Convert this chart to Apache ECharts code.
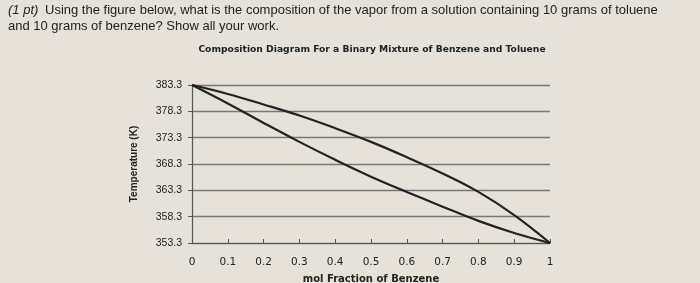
<!DOCTYPE html>
<html><head><meta charset="utf-8">
<script src="https://cdn.jsdelivr.net/npm/echarts@6/dist/echarts.min.js"></script>
<style>html,body{margin:0;padding:0;background:#e6e2da;}#c{width:700px;height:283px;}</style>
</head><body><div id="c"></div>
<script>
var questionLine1 = "Using the figure below, what is the composition of the vapor from a solution containing 10 grams of toluene";
var questionLine2 = "and 10 grams of benzene? Show all your work.";
var chartTitle = "Composition Diagram For a Binary Mixture of Benzene and Toluene";
var xName = "mol Fraction of Benzene";
var yName = "Temperature (K)";
var yTicks = [353.3, 358.3, 363.3, 368.3, 373.3, 378.3, 383.3];
var molFraction = [0, 0.1, 0.2, 0.3, 0.4, 0.5, 0.6, 0.7, 0.8, 0.9, 1];
var liquidT = [383.3, 379.8, 376.1, 372.5, 369.1, 365.9, 363.0, 360.2, 357.5, 355.2, 353.3];
var vaporT  = [383.3, 381.6, 379.6, 377.5, 375.1, 372.5, 369.6, 366.5, 363.0, 358.6, 353.3];

var yBase = yTicks[0];
function pairs(t){ return molFraction.map(function(x,i){ return [x, +(t[i]-yBase).toFixed(3)]; }); }

var chart = echarts.init(document.getElementById('c'), null, {renderer:'canvas'});
chart.setOption({
  backgroundColor: '#e6e2da',
  animation: false,
  graphic: [
    {type:'text', left: 8, top: 4, style:{text:'(1 pt)', font:'italic 13px "Liberation Sans"', fill:'#222'}},
    {type:'text', left: 45, top: 4, style:{text: questionLine1, font:'13px "Liberation Sans"', fill:'#222'}},
    {type:'text', left: 8, top: 20, style:{text: questionLine2, font:'13px "Liberation Sans"', fill:'#222'}}
  ],
  title: {
    text: chartTitle, left: 367, top: 40, textAlign: 'center',
    textStyle: {fontFamily: 'DejaVu Sans', fontWeight: 'bold', fontSize: 9.2, color: '#222'}
  },
  grid: {left: 192, right: 150, top: 85, bottom: 40, outerBoundsMode: 'none', containLabel: false},
  xAxis: {
    type: 'value', min: 0, max: 1, interval: 0.1,
    name: xName, nameLocation: 'middle', nameGap: 31,
    nameTextStyle: {fontFamily: 'DejaVu Sans', fontWeight: 'bold', fontSize: 10, color: '#222'},
    axisLine: {lineStyle: {color: '#555', width: 1.2}},
    axisTick: {inside: true, length: 4, lineStyle: {color: '#555'}},
    axisLabel: {fontFamily: 'DejaVu Sans', fontSize: 10.5, color: '#222', margin: 14},
    splitLine: {show: false}
  },
  yAxis: {
    type: 'value', min: 0, max: yTicks[yTicks.length-1]-yBase, interval: 5,
    name: yName, nameLocation: 'middle', nameGap: 53, nameRotate: 90,
    nameTextStyle: {fontFamily: 'Liberation Sans', fontWeight: 'bold', fontSize: 10, color: '#222'},
    axisLine: {show: true, lineStyle: {color: '#555', width: 1.2}},
    axisTick: {show: true, length: 4, lineStyle: {color: '#555'}},
    axisLabel: {fontFamily: 'Liberation Sans', fontSize: 10.5, color: '#222', margin: 10,
      formatter: function(v){ return (v + yBase).toFixed(1); }},
    splitLine: {show: true, lineStyle: {color: '#7a7874', width: 1.3}}
  },
  series: [
    {type:'line', data: pairs(liquidT), smooth: 0.4, symbol:'none', lineStyle:{color:'#222', width:2.2}},
    {type:'line', data: pairs(vaporT), smooth: 0.4, symbol:'none', lineStyle:{color:'#222', width:2.2}}
  ]
});
</script></body></html>
